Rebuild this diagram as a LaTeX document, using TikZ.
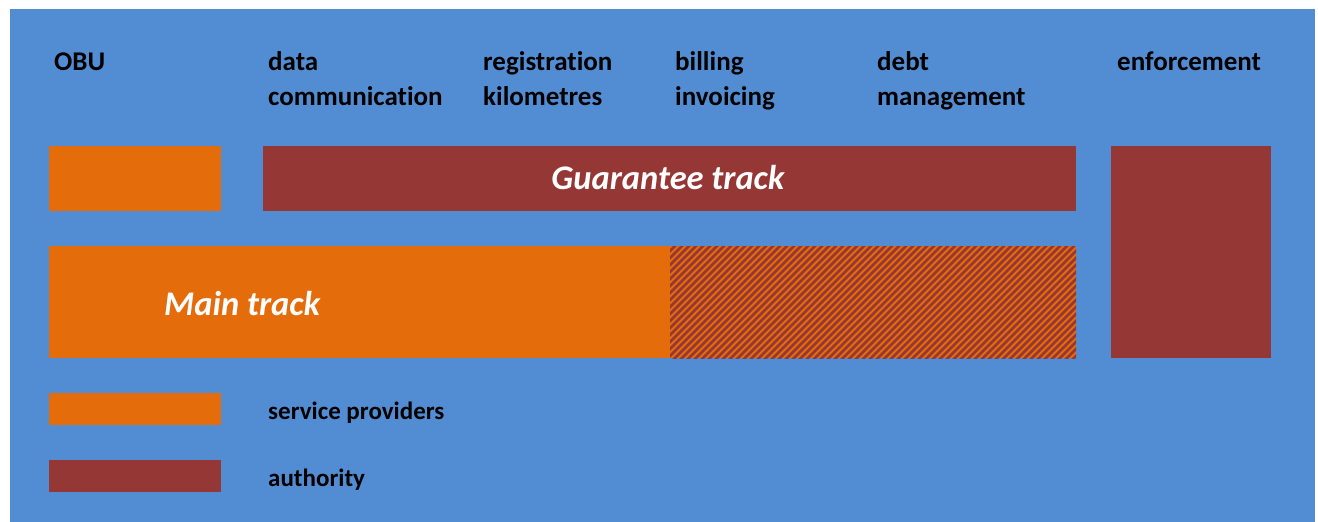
\documentclass[tikz,border=0pt]{standalone}
\usepackage{fontspec}
\setmainfont{Carlito}[Ligatures=NoCommon]
\definecolor{bgblue}{HTML}{528DD4}
\definecolor{sporange}{HTML}{E46C0A}
\definecolor{authred}{HTML}{953735}
\begin{document}
\begin{tikzpicture}[x=1pt,y=-1pt,
  hdr/.style={anchor=base west,inner sep=0pt,font=\fontsize{27}{35}\selectfont\bfseries,align=left},
  leg/.style={anchor=base west,inner sep=0pt,font=\fontsize{25}{30}\selectfont\bfseries},
  trk/.style={inner sep=0pt,text=white,font=\fontsize{34.5}{40}\selectfont\bfseries\itshape},
  box/.style={anchor=north west,inner sep=0pt,outer sep=0pt,draw=none},
  hatch/.style={draw=authred,line width=2.5pt}]
\useasboundingbox (0,0) rectangle (1318,522);
\fill[white] (0,0) rectangle (1318,522);
\fill[bgblue] (10,9) rectangle (1315,522);
% headers
\node[hdr] (hobu) at (54,70) {OBU};
\node[hdr] (hdata) at (268,105) {data\\communication};
\node[hdr] (hreg) at (483,105) {registration\\kilometres};
\node[hdr] (hbill) at (675,105) {billing\\invoicing};
\node[hdr] (hdebt) at (877,105) {debt\\management};
\node[hdr] (henf) at (1117,70) {enforcement};
% boxes
\node[box,fill=sporange,minimum width=172pt,minimum height=65pt] (obu) at (49,146) {};
\node[box,fill=authred,minimum width=813pt,minimum height=65pt] (guar) at (263,146) {};
\node[box,fill=sporange,minimum width=621pt,minimum height=112pt] (main) at (49,246) {};
\node[box,fill=sporange,minimum width=406pt,minimum height=112pt] (mix) at (670,246) {};
\begin{scope}
\clip (670,246) rectangle (1076,358);
\foreach \i in {660,667,...,1200} \draw[hatch] (\i,240) -- ++(-124,124);
\end{scope}
\node[box,fill=authred,minimum width=160pt,minimum height=212pt] (enf) at (1111,146) {};
\node[trk,anchor=base] (tguar) at (668,189) {Guarantee track};
\node[trk,anchor=base west] (tmain) at (164,315) {Main track};
% legend
\node[box,fill=sporange,minimum width=172pt,minimum height=32pt] (lsp) at (49,393) {};
\node[box,fill=authred,minimum width=172pt,minimum height=32pt] (lau) at (49,460) {};
\node[leg] (tsp) at (268,419) {service providers};
\node[leg] (tau) at (268,486) {authority};
\end{tikzpicture}
\end{document}
